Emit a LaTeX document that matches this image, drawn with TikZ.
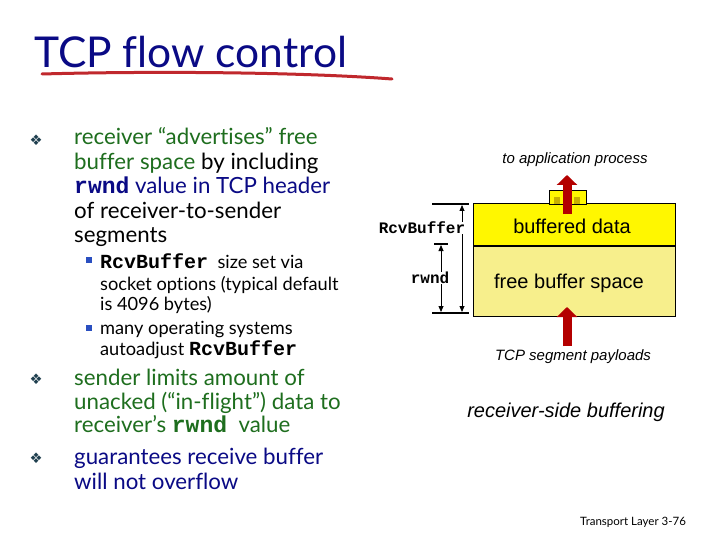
\documentclass[tikz,border=0pt]{standalone}
\usepackage{fontspec}
\setmainfont{Lato}[Ligatures=NoCommon]
\newfontfamily\arialf{Liberation Sans}
\newfontfamily\codef{Liberation Mono}
\newfontfamily\symf{DejaVu Sans}
\usetikzlibrary{arrows.meta}
\definecolor{navy}{HTML}{0A0A85}
\definecolor{tgreen}{HTML}{1E6E1E}
\definecolor{bulletc}{HTML}{1F3F4F}
\definecolor{subbul}{HTML}{2A4FC0}
\definecolor{ulred}{HTML}{C0282D}
\definecolor{arrred}{HTML}{B40000}
\definecolor{bufyel}{HTML}{FFF700}
\definecolor{freeyel}{HTML}{F7EF8C}
\definecolor{darkyel}{HTML}{C8B000}
\tikzset{
  txt/.style={anchor=base west, inner sep=0pt, font=\fontsize{22.3}{24}\selectfont},
  subtxt/.style={anchor=base west, inner sep=0pt, font=\fontsize{18.2}{20}\selectfont},
  bul/.style={inner sep=0pt, text=bulletc, font=\symf\fontsize{14.5}{14}\selectfont},
  sbul/.style={fill=subbul, minimum size=5.5pt, inner sep=0pt},
  diag/.style={inner sep=0pt, font=\arialf\fontsize{20}{20}\selectfont},
  diagit/.style={inner sep=0pt, font=\arialf\itshape\fontsize{15}{15}\selectfont},
  codelab/.style={inner sep=0pt, font=\codef\bfseries\fontsize{16}{16}\selectfont},
  redarrow/.style={draw=arrred, line width=9pt, -{Triangle[width=20pt,length=10pt]}},
  dimline/.style={draw=black, line width=0.8pt, {Triangle[width=5pt,length=6pt]}-{Triangle[width=5pt,length=6pt]}},
  tick/.style={draw=black, line width=2pt}
}
\newcommand{\cd}[1]{{\codef\bfseries #1}}
\begin{document}
\begin{tikzpicture}[x=1pt,y=-1pt]
\useasboundingbox (0,0) rectangle (720,540);
\fill[white] (0,0) rectangle (720,540);
% title
\node[anchor=base west, inner sep=0pt, text=navy, font=\fontsize{42.5}{42}\selectfont] (title) at (34,68) {TCP flow control};
\draw[ulred, line width=3pt, line cap=round] (42,74) .. controls (150,71) and (300,72) .. (392,79);
% bullet 1
\node[bul] (b1) at (36,140) {❖};
\node[txt, text=tgreen] (l1) at (74,145) {receiver “advertises” free};
\node[txt] (l2) at (74,169.5) {\textcolor{tgreen}{buffer space} by including};
\node[txt, text=navy] (l3) at (74,194) {\cd{\fontsize{23}{24}\selectfont rwnd} value in TCP header};
\node[txt] (l4) at (74,218.5) {of receiver-to-sender};
\node[txt] (l5) at (74,243) {segments};
% sub bullets
\node[sbul] (s1) at (89,260) {};
\node[subtxt] (m1) at (100,268) {\cd{\fontsize{20}{20}\selectfont RcvBuffer}\ \ size set via};
\node[subtxt] (m2) at (100,290) {socket options (typical default};
\node[subtxt] (m3) at (100,310) {is 4096 bytes)};
\node[sbul] (s2) at (89,328) {};
\node[subtxt] (m4) at (100,334) {many operating systems};
\node[subtxt] (m5) at (100,355) {autoadjust \cd{\fontsize{20}{20}\selectfont RcvBuffer}};
% bullet 3
\node[bul] (b3) at (36,379) {❖};
\node[txt, text=tgreen] (n1) at (74,385) {sender limits amount of};
\node[txt, text=tgreen] (n2) at (74,409) {unacked (“in-flight”) data to};
\node[txt, text=tgreen] (n3) at (74,432) {receiver’s \cd{\fontsize{23}{24}\selectfont rwnd}\ \ value};
% bullet 4
\node[bul] (b4) at (36,458) {❖};
\node[txt, text=navy] (g1) at (74,464) {guarantees receive buffer};
\node[txt, text=navy] (g2) at (74,489) {will not overflow};
% diagram
\fill[bufyel] (473,204) rectangle (675,246);
\fill[freeyel] (473,246) rectangle (675,316);
\draw[black, line width=1pt] (473,204) rectangle (675,316);
\draw[black, line width=2pt] (473,246) -- (675,246);
\node[draw=black, line width=0.6pt, fill=bufyel, minimum width=37pt, minimum height=14pt, inner sep=0pt] (small) at (567.5,197) {};
\fill[darkyel] (554,197) rectangle (560,204);
\fill[darkyel] (574,197) rectangle (580,204);
\node[diagit] (toapp) at (575,160) {to application process};
\node[diag] (bd) at (572,226) {buffered data};
\node[diag] (fbs) at (569,283) {free buffer space};
\node[diagit] (tcpseg) at (573,357) {TCP segment payloads};
\node[inner sep=0pt, font=\arialf\itshape\fontsize{20}{20}\selectfont] (rsb) at (566,412) {receiver-side buffering};
% red arrows
\coordinate (a1s) at (567,214);
\coordinate (a1e) at (567,175);
\draw[redarrow] (a1s) -- (a1e);
\coordinate (a2s) at (567,346);
\coordinate (a2e) at (567,307);
\draw[redarrow] (a2s) -- (a2e);
% dimension lines
\coordinate (rbt1) at (432,204); \coordinate (rbt2) at (469,204);
\coordinate (rbb1) at (432,313); \coordinate (rbb2) at (469,313);
\coordinate (rwt1) at (434,244); \coordinate (rwt2) at (448,244);
\draw[tick] (rbt1) -- (rbt2);
\draw[tick] (rbb1) -- (rbb2);
\draw[tick] (rwt1) -- (rwt2);
\coordinate (rbv1) at (462,205); \coordinate (rbv2) at (462,312);
\coordinate (rwv1) at (441,245); \coordinate (rwv2) at (441,312);
\draw[dimline] (rbv1) -- (rbv2);
\draw[dimline] (rwv1) -- (rwv2);
\node[codelab, fill=white, inner xsep=1pt] (rcvlab) at (422,228) {RcvBuffer};
\node[codelab, fill=white, inner xsep=1pt] (rwndlab) at (430,278) {rwnd};
% footer
\node[anchor=base west, inner sep=0pt, font=\fontsize{11.5}{12}\selectfont] (foot) at (580,525) {Transport Layer 3-76};
\end{tikzpicture}
\end{document}
